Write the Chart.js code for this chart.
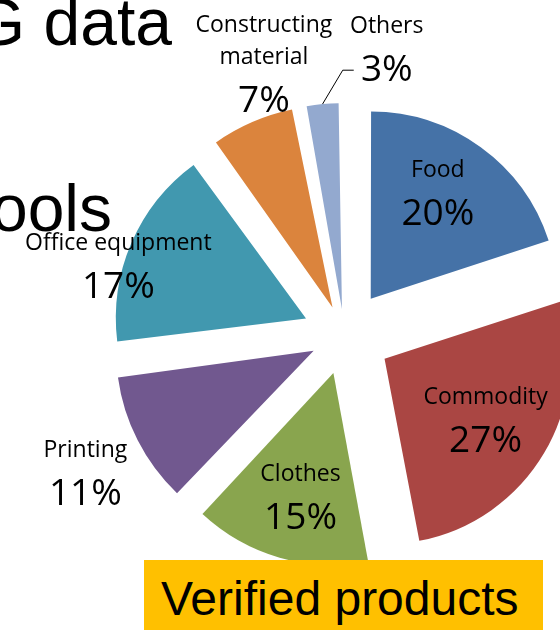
<!DOCTYPE html>
<html>
<head>
<meta charset="utf-8">
<script src="https://cdn.jsdelivr.net/npm/chart.js@4.4.1/dist/chart.umd.min.js"></script>
<style>
  html, body { margin: 0; padding: 0; background: #fff; }
  body { width: 560px; height: 630px; position: relative; overflow: hidden; font-family: "Liberation Sans", Arial, sans-serif; }
  #wrap { position: absolute; left: 0; top: 0; width: 560px; height: 630px; }
  .slide-text { position: absolute; font-size: 66px; line-height: 1; white-space: nowrap; color: #000; text-align: right; }
  #badge { position: absolute; left: 144px; top: 560px; width: 399px; height: 70px; background: #FFC000; }
  #badge span { position: absolute; left: 17px; top: 15px; font-size: 48px; line-height: 1; white-space: nowrap; color: #000; }
</style>
</head>
<body>
<div id="wrap"><canvas id="myChart" width="560" height="630"></canvas></div>
<div class="slide-text" style="right:388px; top:-11px;">G data</div>
<div class="slide-text" style="right:448px; top:175px;">ools</div>
<div id="badge"><span>Verified products</span></div>
<script>
// chart data
var categories = ["Food", "Commodity", "Clothes", "Printing", "Office equipment", "Constructing material", "Others"]
var shares = [20, 27, 15, 11, 17, 7, 3]
var colors = ["#4572A7", "#AA4643", "#89A54E", "#71588F", "#4198AF", "#DB843D", "#93A9CF"]

// how far every slice is pulled out (px) and the pie radius
var EXPLODE = 47
var RADIUS = 185

// where each data label sits: k = distance along the slice bisector (x radius),
// dx/dy = small nudge, wrap = split the name on spaces, leader = draw a leader line
var labelLayout = [
    {k: 0.578, dx: 3, dy: 2},
    {k: 0.689, dx: -9, dy: 15},
    {k: 0.751, dx: 8, dy: 2},
    {k: 1.378, dx: 10, dy: 20},
    {k: 0.977, dx: -17, dy: 40},
    {k: 1.087, dx: 18, dy: -8, wrap: true},
    {k: 1.162, dx: 67, dy: -6, leader: true}
]

// Chart.js moves an arc by offset/4*(2-sin(circumference)), so pick offsets that give the same pull-out for all
var total = shares.reduce(function(a, b){ return a + b }, 0)
var offsets = shares.map(function(v){
    var circ = v / total * Math.PI * 2
    return 4 * EXPLODE / (2 - Math.sin(Math.min(Math.PI, circ)))
})

function arcShift(arc){
    var mid = (arc.startAngle + arc.endAngle) / 2
    var off = (arc.options.offset || 0) / 4
    var fix = 1 - Math.sin(Math.min(Math.PI, arc.circumference || 0))
    var t = off * (1 + fix)
    return {x: arc.x + Math.cos(mid) * t, y: arc.y + Math.sin(mid) * t, mid: mid}
}

var sliceLabels = {
    id: 'sliceLabels',
    afterDatasetsDraw: function(chart){
        var ctx = chart.ctx
        var meta = chart.getDatasetMeta(0)
        ctx.save()
        ctx.fillStyle = '#000'
        ctx.textAlign = 'center'
        ctx.textBaseline = 'alphabetic'
        meta.data.forEach(function(arc, i){
            var lay = labelLayout[i]
            var a = arcShift(arc)
            var r = arc.outerRadius
            var cx = a.x + Math.cos(a.mid) * r * lay.k + lay.dx
            var cy = a.y + Math.sin(a.mid) * r * lay.k + lay.dy

            // percentage, 37px Open Sans, cap height ~0.714em
            ctx.font = '37px "Open Sans"'
            ctx.fillText(shares[i] + '%', cx, cy + 13)

            // category name above it
            var lines = lay.wrap ? categories[i].split(' ') : [categories[i]]
            ctx.font = '23px "Open Sans"'
            for (var j = 0; j < lines.length; j++) {
                var ly = cy - 43 - (lines.length - 1 - j) * 32
                ctx.fillText(lines[j], cx, ly + 8)
            }

            if (lay.leader) {
                ctx.strokeStyle = '#000'
                ctx.lineWidth = 1
                ctx.beginPath()
                ctx.moveTo(a.x + Math.cos(a.mid) * r, a.y + Math.sin(a.mid) * r)
                ctx.lineTo(cx - 44, cy + 2)
                ctx.lineTo(cx - 33, cy + 2)
                ctx.stroke()
            }
        })
        ctx.restore()
    }
}

var myChart = document.getElementById("myChart").getContext('2d')
var chart = new Chart(myChart, {
    type: 'pie',
    data: {
        labels: categories,
        datasets: [
            {
                data: shares,
                backgroundColor: colors,
                borderWidth: 0,
                offset: offsets,
                radius: RADIUS,
                clip: false
            }
        ]
    },
    options: {
        responsive: false,
        animation: false,
        events: [],
        radius: RADIUS,
        layout: { padding: { left: 128.8, right: 0, top: 40, bottom: 0 } },
        plugins: {
            legend: { display: false },
            tooltip: { enabled: false }
        }
    },
    plugins: [sliceLabels]
})
</script>
</body>
</html>
